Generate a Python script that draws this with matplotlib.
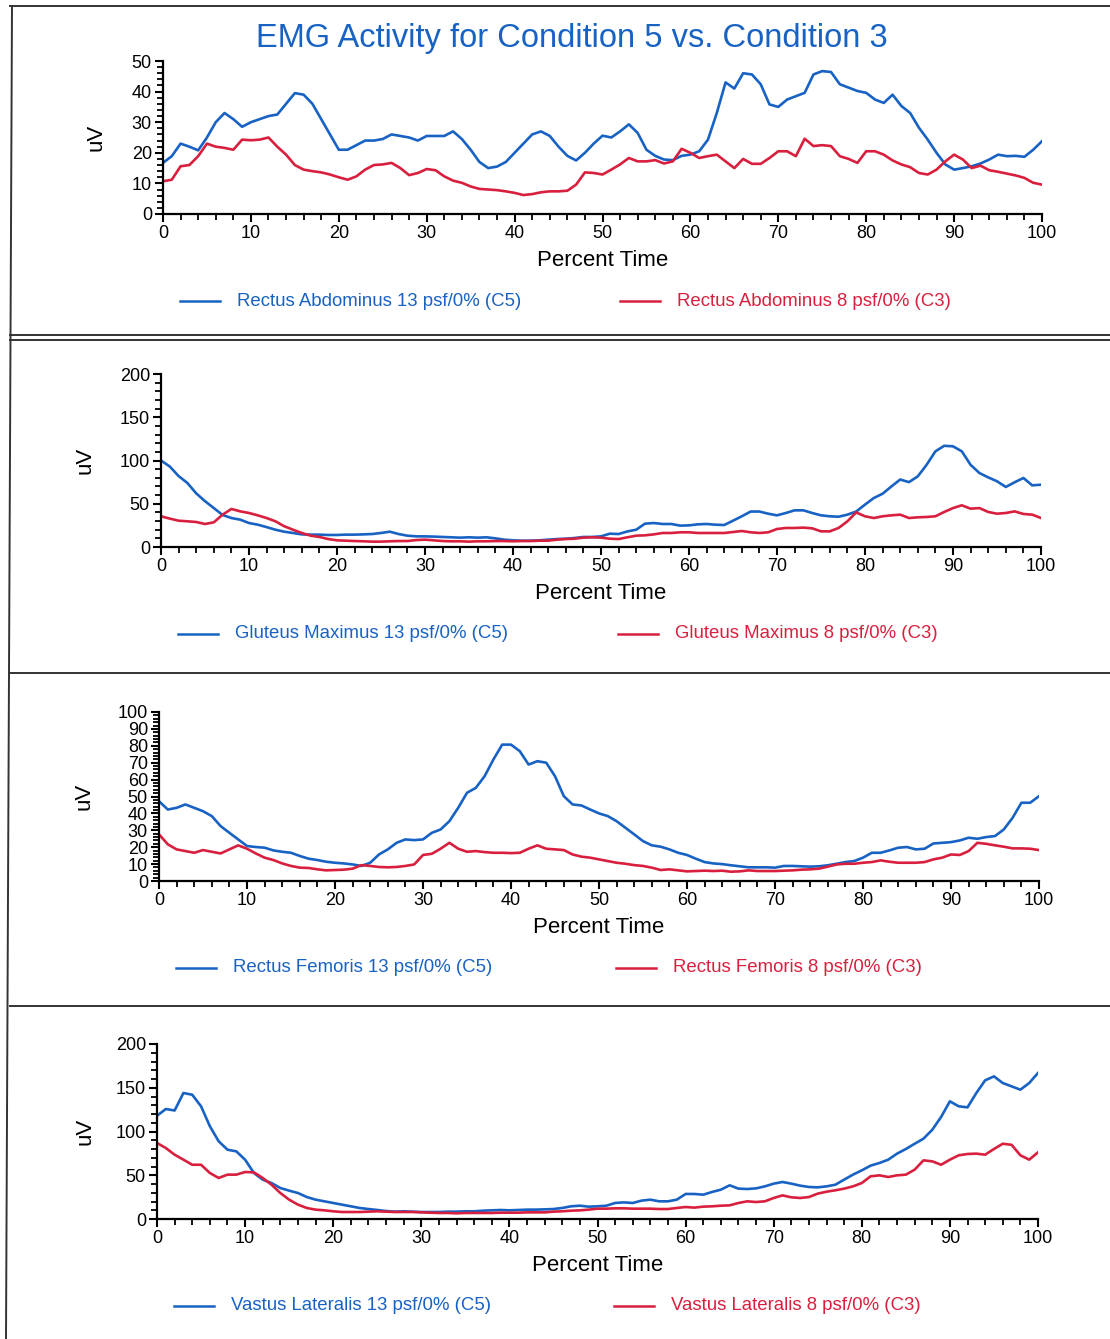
import numpy as np
import matplotlib
matplotlib.use('Agg')
import matplotlib.pyplot as plt
from matplotlib.lines import Line2D
from matplotlib.ticker import MultipleLocator

plt.rcParams['font.family'] = ['Liberation Sans', 'DejaVu Sans']

# EMG activity, percent time 0..100 in steps of 1
pct = np.arange(0, 101)

ra_c5 = [16.7, 18.9, 23, 22, 20.8, 25, 30, 33, 31, 28.5,
         30, 31, 32, 32.5, 36, 39.5, 39, 36, 31, 26,
         21, 21, 22.5, 24, 24, 24.5, 26, 25.5, 25, 24,
         25.5, 25.5, 25.5, 27, 24.5, 21, 17, 15, 15.5, 17,
         20, 23, 26, 27, 25.5, 22, 19, 17.5, 20, 23,
         25.6, 25, 27, 29.3, 26.5, 21, 19, 17.8, 17.6, 19,
         19.4, 20.5, 24.3, 33, 43, 41, 46, 45.6, 42.4, 35.8,
         35, 37.4, 38.5, 39.6, 45.6, 46.7, 46.4, 42.4, 41.3, 40.2,
         39.6, 37.4, 36.3, 39, 35.3, 33, 28.2, 24.3, 20, 16.2,
         14.5, 15, 15.6, 16.5, 17.8, 19.4, 18.9, 19, 18.7, 21,
         23.8]
ra_c3 = [10.7, 11.2, 15.6, 16, 18.9, 23, 22, 21.6, 21, 24.3,
         24.1, 24.3, 25, 22, 19.4, 16, 14.5, 14, 13.6, 12.9,
         12, 11.2, 12.3, 14.5, 16, 16.2, 16.7, 15, 12.7, 13.4,
         14.7, 14.3, 12.3, 10.9, 10.2, 9, 8.2, 8, 7.8, 7.4,
         6.9, 6.2, 6.5, 7.1, 7.4, 7.4, 7.6, 9.6, 13.6, 13.4,
         12.9, 14.5, 16.2, 18.3, 17.2, 17.2, 17.6, 16.5, 17.2, 21.3,
         20, 18.3, 18.9, 19.4, 17.2, 15, 18, 16.4, 16.4, 18.3,
         20.5, 20.5, 18.9, 24.6, 22.2, 22.5, 22.2, 18.9, 18, 16.7,
         20.5, 20.5, 19.4, 17.5, 16.2, 15.3, 13.4, 12.9, 14.5, 17.2,
         19.4, 17.8, 15, 15.8, 14.3, 13.8, 13.2, 12.6, 11.8, 10.2,
         9.6]

gm_c5 = [100, 93, 82, 74, 62, 53, 45, 37, 33.5, 31.6,
         27.7, 25.8, 23, 20, 17.7, 16.2, 14.6, 14.3, 14.3, 13.9,
         13.9, 14.3, 14.3, 14.6, 15, 16.2, 17.7, 15, 13.1, 12.3,
         12.3, 12, 11.6, 11.2, 10.8, 11.2, 10.8, 11.2, 10, 8.5,
         7.7, 7.3, 7.3, 7.7, 8.5, 9.2, 9.6, 10.4, 11.6, 11.6,
         12.3, 15.4, 15, 18, 20, 27, 27.7, 26.6, 26.6, 24.7,
         25, 26.2, 26.6, 25.8, 25.4, 30.4, 35.5, 41, 41, 38.5,
         36.6, 39.3, 42.4, 42.4, 39.3, 36.6, 35.5, 35, 37.4, 41,
         49, 56.6, 61.6, 70, 78, 75, 81.7, 95, 110.6, 117,
         116.4, 110.6, 95, 85.5, 80.5, 76, 69.4, 74.8, 79.8, 71.3,
         72]
gm_c3 = [35.5, 32.8, 30.4, 29.7, 28.9, 26.6, 28.5, 37.4, 44, 41.2,
         39.3, 36.6, 33.5, 29.7, 24, 20, 16.2, 13.1, 11.6, 9.2,
         7.7, 7.3, 6.9, 6.6, 6.2, 6.2, 6.6, 6.9, 6.9, 8,
         8.5, 7.7, 6.9, 6.6, 6.6, 6.2, 6.6, 6.6, 6.9, 6.9,
         6.6, 6.9, 6.9, 7.3, 7.3, 8.5, 9.2, 9.6, 10.8, 11.2,
         10.8, 9.6, 9.2, 11.2, 13.1, 13.5, 14.6, 16.2, 16.2, 17,
         17, 16.2, 16.2, 16.2, 16.2, 17.3, 18.5, 17, 16.2, 17,
         20.8, 22, 22, 22.4, 21.6, 18.1, 18.1, 22, 29.7, 40,
         35.5, 33.5, 35.5, 36.6, 37.4, 33.5, 34.3, 34.7, 35.5, 40.5,
         45, 48.2, 44.3, 45, 40.5, 38.5, 39.3, 41.2, 38.2, 37.4,
         33.5]

rf_c5 = [47.2, 42.3, 43.3, 45.3, 43.3, 41.3, 38.4, 32.5, 28.5, 24.6,
         20.7, 20.1, 19.7, 18.1, 17.3, 16.7, 14.8, 13.2, 12.4, 11.4,
         10.8, 10.4, 9.8, 8.9, 10.8, 15.7, 18.7, 22.6, 24.6, 24.2,
         24.6, 28.5, 30.5, 35.4, 43.3, 52.2, 55.1, 62, 71.9, 80.7,
         80.7, 76.8, 68.9, 70.9, 70, 62, 50.2, 45.3, 44.7, 42.3,
         40, 38.4, 35.4, 31.5, 27.6, 23.6, 21.1, 20.3, 18.7, 16.7,
         15.4, 13.2, 11.2, 10.4, 10, 9.3, 8.7, 8.1, 8.1, 8.1,
         7.9, 8.9, 8.9, 8.7, 8.5, 8.7, 9.3, 10.2, 11.2, 11.8,
         13.8, 16.7, 16.7, 18.1, 19.7, 20.1, 18.7, 19.1, 22.2, 22.6,
         23, 24, 25.6, 25, 26, 26.6, 30.5, 37.4, 46.3, 46.3,
         50.2]
rf_c3 = [27.6, 21.7, 18.7, 17.7, 16.7, 18.3, 17.3, 16.3, 18.7, 21.1,
         19.1, 16.3, 13.8, 12.4, 10.4, 8.9, 7.9, 7.7, 6.9, 6.3,
         6.5, 6.7, 7.3, 9.4, 8.9, 8.3, 8.1, 8.3, 8.9, 9.8,
         15.4, 16.1, 19.1, 22.6, 19.1, 17.3, 17.7, 17.1, 16.7, 16.7,
         16.5, 16.7, 19.1, 21.1, 19.1, 18.7, 18.3, 15.7, 14.4, 13.8,
         12.8, 11.8, 10.8, 10.2, 9.4, 8.9, 7.9, 6.5, 6.9, 6.3,
         5.7, 5.9, 6.1, 5.9, 6.1, 5.5, 5.7, 6.3, 5.9, 5.9,
         5.9, 6.1, 6.3, 6.7, 6.9, 7.3, 8.5, 9.8, 10.2, 10.2,
         10.8, 11.2, 12.2, 11.4, 10.8, 10.8, 10.8, 11.2, 12.8, 13.8,
         15.7, 15.4, 17.7, 22.6, 22, 21.1, 20.3, 19.3, 19.3, 19.1,
         18.3]

vl_c5 = [118, 125.7, 124, 144, 142, 128.8, 106, 88.8, 79.2, 77.3,
         67.8, 52.6, 45, 41.1, 35.4, 32.4, 29.7, 25.1, 22.1, 20.2,
         18.3, 16.4, 14.5, 12.6, 11.4, 10.3, 9.1, 8.4, 8.8, 8.4,
         8, 8, 8, 8.4, 8.4, 8.8, 8.8, 9.5, 9.9, 10.3,
         9.9, 10.3, 10.7, 10.7, 11, 11.4, 12.6, 14.5, 15.2, 14.1,
         14.5, 15.2, 18.3, 19, 18.3, 21, 22.1, 20.2, 20.2, 22.1,
         28.6, 28.6, 27.8, 30.9, 33.5, 38.5, 34.7, 34.3, 35, 37.3,
         40.4, 42.3, 40.4, 38.1, 36.6, 36.2, 37.3, 39.2, 45, 50.7,
         55.6, 61, 64, 67.8, 74.7, 80, 86, 91.8, 102, 116.6,
         134.5, 128.8, 127.6, 144, 158.5, 163, 155.4, 151.6, 147.8, 155.4,
         166.9]
vl_c3 = [86.9, 81.1, 73.5, 67.8, 62, 62, 52.6, 46.9, 50.7, 50.7,
         53.7, 53.3, 46.9, 39.2, 29.7, 22.1, 16.4, 12.6, 10.7, 9.9,
         8.8, 8, 8, 8, 8.4, 8.8, 8.4, 8, 8, 8,
         7.6, 7.2, 6.9, 6.9, 6.5, 6.9, 6.9, 6.9, 6.9, 7.2,
         7.2, 7.2, 7.6, 7.6, 7.6, 8.4, 8.8, 9.5, 9.9, 10.7,
         11.8, 11.8, 12.2, 12.2, 11.8, 11.8, 11.8, 11.4, 11.4, 12.6,
         13.7, 13, 14.1, 14.5, 15.2, 15.6, 18.3, 20.2, 19.4, 20.2,
         24, 27, 24.8, 24, 25.1, 29, 31.2, 32.8, 34.7, 37.3,
         41.1, 48.8, 49.9, 48, 49.9, 50.7, 56.4, 67, 65.9, 62,
         67.8, 72.8, 74.3, 74.7, 73.5, 80, 86, 84.8, 72.8, 67.8,
         76.2]

muscles = ['Rectus Abdominus', 'Gluteus Maximus', 'Rectus Femoris', 'Vastus Lateralis']
c5_series = [ra_c5, gm_c5, rf_c5, vl_c5]
c3_series = [ra_c3, gm_c3, rf_c3, vl_c3]
y_max = [50, 200, 100, 200]
y_major = [10, 50, 10, 50]
y_minor = [2, 10, 2, 10]

BLUE = '#1862c4'
RED = '#d8203e'
W, H = 1110, 1339

fig = plt.figure(figsize=(W / 100, H / 100), dpi=100)

# axes boxes in pixels: left, y of zero line, width, height
boxes = [(163, 214, 879, 153), (161, 547, 880, 173),
         (159, 881, 880, 169), (157, 1219, 881, 175)]
ylab_x = [-0.064, -0.074, -0.073, -0.070]

for i in range(4):
    left, y0, w, h = boxes[i]
    ax = fig.add_axes([left / W, 1 - y0 / H, w / W, h / H])
    ax.plot(pct, c5_series[i], color=BLUE, lw=1.9)
    ax.plot(pct, c3_series[i], color=RED, lw=1.9)
    ax.set_xlim(0, 100)
    ax.set_ylim(0, y_max[i])
    ax.xaxis.set_major_locator(MultipleLocator(10))
    ax.xaxis.set_minor_locator(MultipleLocator(2))
    ax.yaxis.set_major_locator(MultipleLocator(y_major[i]))
    ax.yaxis.set_minor_locator(MultipleLocator(y_minor[i]))
    ax.spines['top'].set_visible(False)
    ax.spines['right'].set_visible(False)
    ax.spines['left'].set_linewidth(1.6)
    ax.spines['bottom'].set_linewidth(1.6)
    ax.tick_params(which='major', direction='out', length=6, width=1.5,
                   labelsize=13, pad=2)
    ax.tick_params(which='minor', direction='out', length=4, width=1.3)
    ax.set_xlabel('Percent Time', fontsize=16, labelpad=6)
    ax.set_ylabel('uV', fontsize=16)
    ax.yaxis.set_label_coords(ylab_x[i], 0.5)

    # legend row under the axis
    ly = 1 - (y0 + 87) / H
    fig.add_artist(Line2D([(left + 17) / W, (left + 57) / W], [ly, ly],
                          color=BLUE, lw=1.8))
    fig.text((left + 74) / W, ly, muscles[i] + ' 13 psf/0% (C5)',
             color=BLUE, fontsize=13.4, va='center')
    fig.add_artist(Line2D([(left + 457) / W, (left + 497) / W], [ly, ly],
                          color=RED, lw=1.8))
    fig.text((left + 514) / W, ly, muscles[i] + ' 8 psf/0% (C3)',
             color=RED, fontsize=13.4, va='center')

fig.text(572 / W, 1 - 38 / H, 'EMG Activity for Condition 5 vs. Condition 3',
         color=BLUE, fontsize=23.5, ha='center', va='center')

# page frame lines
frame = '#333333'
for yp in [6, 335, 340, 673, 1006]:
    fig.add_artist(Line2D([10 / W, 1], [1 - yp / H, 1 - yp / H], color=frame, lw=1.4))
fig.add_artist(Line2D([12 / W, 6 / W], [1 - 6 / H, 0], color=frame, lw=1.4))

fig.savefig('out.png', dpi=100)
